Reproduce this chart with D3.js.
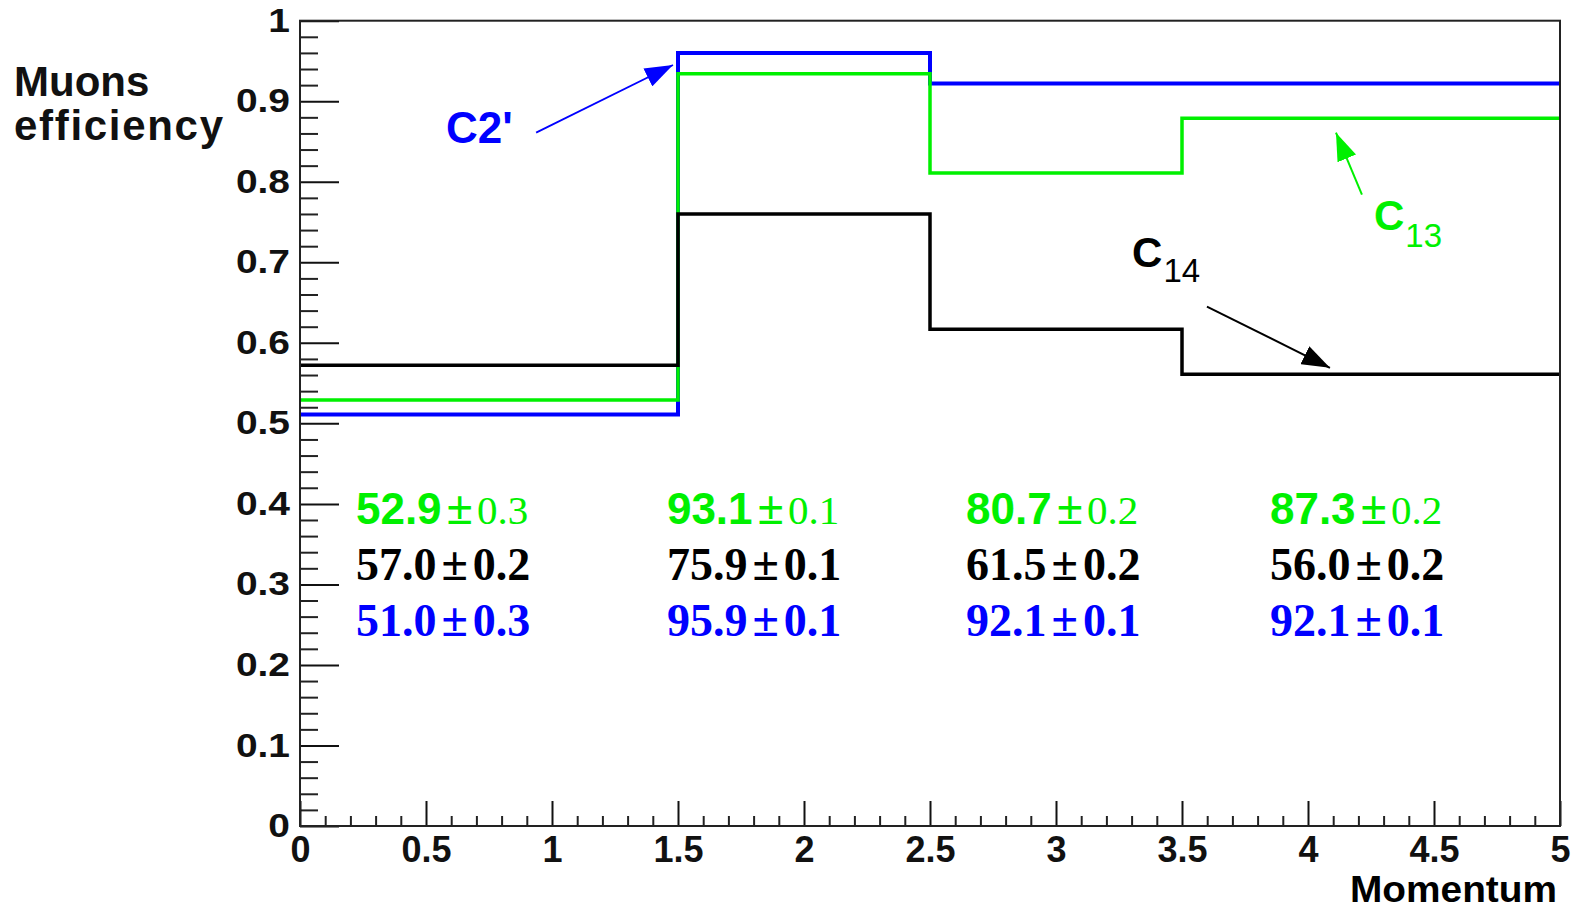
<!DOCTYPE html>
<html>
<head>
<meta charset="utf-8">
<script src="https://cdn.jsdelivr.net/npm/d3@7"></script>
<style>
  body { margin: 0; background: #fff; }
  svg { display: block; }
</style>
</head>
<body>
<div id="wrapper"></div>
<script>
// bin edges along the momentum axis
const binEdges = [0, 1.5, 2.5, 3.5, 5];

// efficiency per bin
const effC2 = [0.511, 0.96, 0.922, 0.922];
const effC13 = [0.529, 0.934, 0.811, 0.879];
const effC14 = [0.572, 0.76, 0.617, 0.561];

// printed values (percent) and errors
const valC13 = ["52.9", "93.1", "80.7", "87.3"];
const errC13 = ["0.3", "0.1", "0.2", "0.2"];
const valC14 = ["57.0", "75.9", "61.5", "56.0"];
const errC14 = ["0.2", "0.1", "0.2", "0.2"];
const valC2 = ["51.0", "95.9", "92.1", "92.1"];
const errC2 = ["0.3", "0.1", "0.1", "0.1"];

// where the number table sits (data coords)
const tableX = [0.222, 1.456, 2.643, 3.849];
const tableY = { c13: 0.375, c14: 0.3055, c2: 0.236 };

// tick values
const xMajorTicks = d3.range(11).map((i) => i * 0.5);
const xMinorTicks = d3.range(51).map((i) => i * 0.1).filter((_, i) => i % 5 !== 0);
const yMajorTicks = d3.range(11).map((i) => i / 10);
const yMinorTicks = d3.range(51).map((i) => i / 50).filter((_, i) => i % 5 !== 0);

const blue = "#0000ff";
const green = "#00f000";
const black = "#000000";

drawChart();

function drawChart() {
  let dimensions = {
    width: 1577,
    height: 910,
    margin: {
      top: 20.7,
      right: 17,
      bottom: 84,
      left: 300,
    },
  };
  dimensions.boundedWidth =
    dimensions.width - dimensions.margin.left - dimensions.margin.right;
  dimensions.boundedHeight =
    dimensions.height - dimensions.margin.top - dimensions.margin.bottom;

  const wrapper = d3
    .select("#wrapper")
    .append("svg")
    .attr("width", dimensions.width)
    .attr("height", dimensions.height)
    .style("font-family", "'Liberation Sans', Arial, Helvetica, sans-serif");

  const bounds = wrapper
    .append("g")
    .attr("transform", `translate(${dimensions.margin.left},${dimensions.margin.top})`);

  const xScale = d3.scaleLinear().domain([0, 5]).range([0, dimensions.boundedWidth]);
  const yScale = d3.scaleLinear().domain([0, 1]).range([dimensions.boundedHeight, 0]);

  // arrow heads
  const defs = wrapper.append("defs");
  [["blue", blue], ["green", green], ["black", black]].forEach(([name, col]) => {
    defs
      .append("marker")
      .attr("id", "head-" + name)
      .attr("markerUnits", "userSpaceOnUse")
      .attr("viewBox", "0 0 28 20")
      .attr("refX", 28)
      .attr("refY", 10)
      .attr("markerWidth", 28)
      .attr("markerHeight", 20)
      .attr("orient", "auto")
      .append("path")
      .attr("d", "M0,0 L28,10 L0,20 Z")
      .attr("fill", col);
  });

  // step histograms: blue first, then green, black on top
  const stepLine = d3
    .line()
    .x((d) => xScale(d[0]))
    .y((d) => yScale(d[1]))
    .curve(d3.curveStepAfter);

  const toPoints = (vals) =>
    vals.map((v, i) => [binEdges[i], v]).concat([[binEdges[binEdges.length - 1], vals[vals.length - 1]]]);

  [
    [effC2, blue, 4],
    [effC13, green, 3.5],
    [effC14, black, 3.5],
  ].forEach(([vals, col, w]) => {
    bounds
      .append("path")
      .attr("d", stepLine(toPoints(vals)))
      .attr("fill", "none")
      .attr("stroke", col)
      .attr("stroke-width", w);
  });

  // axes (ticks pointing inward, ROOT style)
  const yAxis = bounds
    .append("g")
    .call(
      d3.axisLeft(yScale).tickValues(yMajorTicks).tickSizeInner(-39).tickSizeOuter(0)
        .tickPadding(0).tickFormat(d3.format("~g"))
    );
  yAxis.select(".domain").remove();
  yAxis.selectAll("line").attr("stroke", "#111").attr("stroke-width", 2);
  yAxis
    .selectAll("text")
    .attr("font-size", 33)
    .attr("font-weight", "bold")
    .attr("fill", "#111")
    .attr("x", -10 / 1.18)
    .attr("transform", "scale(1.18,1)");

  const yMinor = bounds
    .append("g")
    .call(d3.axisLeft(yScale).tickValues(yMinorTicks).tickSizeInner(-18).tickSizeOuter(0).tickFormat(""));
  yMinor.select(".domain").remove();
  yMinor.selectAll("line").attr("stroke", "#222").attr("stroke-width", 2);

  const xAxis = bounds
    .append("g")
    .attr("transform", `translate(0,${dimensions.boundedHeight})`)
    .call(
      d3.axisBottom(xScale).tickValues(xMajorTicks).tickSizeInner(-25).tickSizeOuter(0)
        .tickPadding(10).tickFormat(d3.format("~g"))
    );
  xAxis.select(".domain").remove();
  xAxis.selectAll("line").attr("stroke", "#111").attr("stroke-width", 2);
  xAxis
    .selectAll("text")
    .attr("font-size", 36)
    .attr("font-weight", "bold")
    .attr("fill", "#111");

  const xMinor = bounds
    .append("g")
    .attr("transform", `translate(0,${dimensions.boundedHeight})`)
    .call(d3.axisBottom(xScale).tickValues(xMinorTicks).tickSizeInner(-10).tickSizeOuter(0).tickFormat(""));
  xMinor.select(".domain").remove();
  xMinor.selectAll("line").attr("stroke", "#222").attr("stroke-width", 2);

  // frame
  bounds
    .append("rect")
    .attr("width", dimensions.boundedWidth)
    .attr("height", dimensions.boundedHeight)
    .attr("fill", "none")
    .attr("stroke", "#222")
    .attr("stroke-width", 2);

  // axis titles
  wrapper
    .append("text")
    .attr("x", 1350)
    .attr("y", 902)
    .attr("font-size", 36)
    .attr("font-weight", "bold")
    .attr("textLength", 207)
    .attr("lengthAdjust", "spacingAndGlyphs")
    .text("Momentum");

  wrapper
    .append("text")
    .attr("x", 14)
    .attr("y", 96)
    .attr("font-size", 42)
    .attr("font-weight", "bold")
    .attr("fill", "#111")
    .text("Muons");
  wrapper
    .append("text")
    .attr("x", 14)
    .attr("y", 140)
    .attr("font-size", 42)
    .attr("font-weight", "bold")
    .attr("fill", "#111")
    .attr("textLength", 209)
    .text("efficiency");

  // curve labels with arrows
  const arrows = [
    { from: [0.937, 0.861], to: [1.48, 0.945], col: blue, name: "blue", w: 1.8 },
    { from: [4.214, 0.784], to: [4.111, 0.861], col: green, name: "green", w: 2 },
    { from: [3.599, 0.645], to: [4.087, 0.569], col: black, name: "black", w: 2 },
  ];
  arrows.forEach((a) => {
    bounds
      .append("line")
      .attr("x1", xScale(a.from[0]))
      .attr("y1", yScale(a.from[1]))
      .attr("x2", xScale(a.to[0]))
      .attr("y2", yScale(a.to[1]))
      .attr("stroke", a.col)
      .attr("stroke-width", a.w)
      .attr("marker-end", `url(#head-${a.name})`);
  });

  bounds
    .append("text")
    .attr("x", xScale(0.579))
    .attr("y", yScale(0.848))
    .attr("font-size", 44)
    .attr("font-weight", "bold")
    .attr("fill", blue)
    .text("C2'");

  const curveLabel = (x, y, main, sub, col, shift) => {
    const t = bounds
      .append("text")
      .attr("x", xScale(x))
      .attr("y", yScale(y))
      .attr("fill", col);
    t.append("tspan").attr("font-size", 42).attr("font-weight", "bold").text(main);
    t.append("tspan").attr("font-size", 33).attr("dx", 1).attr("dy", shift).text(sub);
  };
  curveLabel(4.262, 0.74, "C", "13", green, 17);
  curveLabel(3.302, 0.694, "C", "14", black, 15);

  // table of efficiencies
  const serif = "'Liberation Serif', 'Times New Roman', serif";
  tableX.forEach((x, i) => {
    const g = bounds
      .append("text")
      .attr("x", xScale(x))
      .attr("y", yScale(tableY.c13))
      .attr("fill", green);
    g.append("tspan").attr("font-size", 44).attr("font-weight", "bold").text(valC13[i]);
    g.append("tspan").attr("dx", 5).attr("font-family", serif).attr("font-size", 48).attr("font-weight", "bold").text("\u00b1");
    g.append("tspan").attr("dx", 4).attr("font-family", serif).attr("font-size", 41).text(errC13[i]);

    [
      [valC14, errC14, tableY.c14, black],
      [valC2, errC2, tableY.c2, blue],
    ].forEach(([vals, errs, yy, col]) => {
      const t = bounds
        .append("text")
        .attr("x", xScale(x))
        .attr("y", yScale(yy))
        .attr("fill", col)
        .attr("font-family", serif)
        .attr("font-size", 46)
        .attr("font-weight", "bold");
      t.append("tspan").text(vals[i]);
      t.append("tspan").attr("dx", 5).attr("font-size", 48).text("\u00b1");
      t.append("tspan").attr("dx", 5).text(errs[i]);
    });
  });
}
</script>
</body>
</html>
